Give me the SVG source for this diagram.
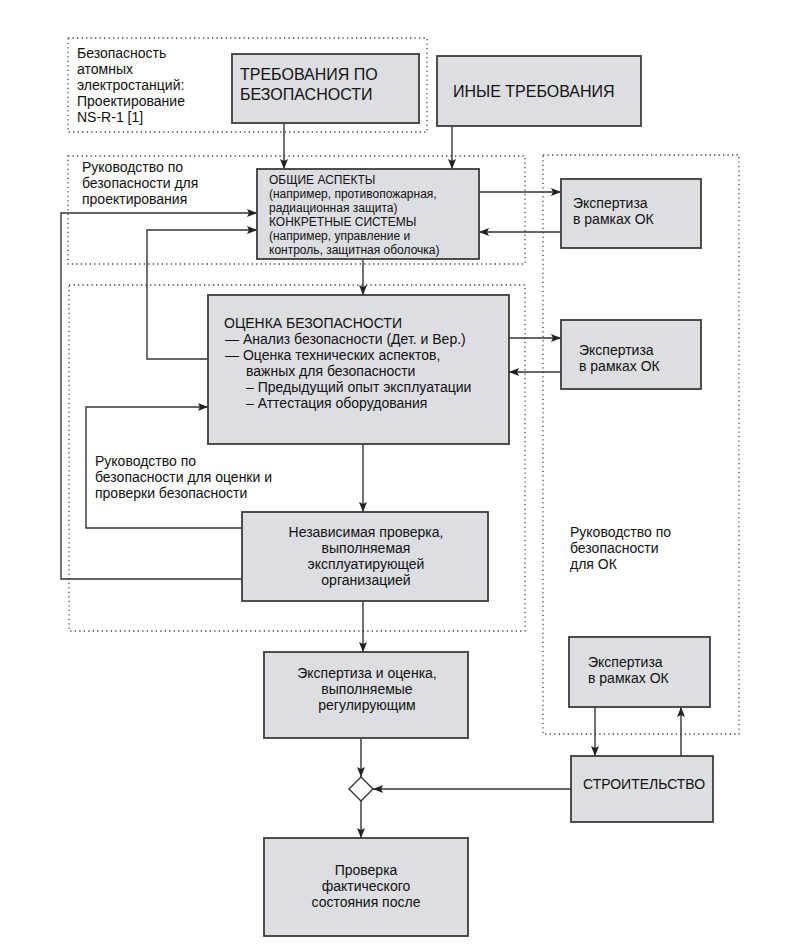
<svg xmlns="http://www.w3.org/2000/svg" width="793" height="947" viewBox="0 0 793 947">
<defs>
<style>
.bg{fill:#ffffff}
.zone{fill:none;stroke:#444;stroke-width:1.3;stroke-dasharray:1.3 3.2}
.box{fill:#dcdee2;stroke:#3c3c3c;stroke-width:1.8}
.ln{fill:none;stroke:#333;stroke-width:1.4}
text{font-family:"Liberation Sans",Arial,sans-serif;fill:#111;font-size:14px}
.big{font-size:16px}
.sm{font-size:12px}
.c{text-anchor:middle}
</style>
<marker id="ah" viewBox="0 0 10 8" refX="10" refY="4" markerWidth="10" markerHeight="8" markerUnits="userSpaceOnUse" orient="auto">
<path d="M0,0 L10,4 L0,8 L2,4 z" fill="#222"/>
</marker>
</defs>
<rect class="bg" x="0" y="0" width="793" height="947"/>

<g id="zones">
<rect class="zone" x="68" y="38" width="359" height="94"/>
<rect class="zone" x="68" y="156" width="457" height="108"/>
<rect class="zone" x="69" y="285" width="456" height="346"/>
<rect class="zone" x="543" y="155" width="196" height="579"/>
</g>

<g id="zone-labels">
<text x="77" y="58">Безопасность</text>
<text x="77" y="74">атомных</text>
<text x="77" y="90">электростанций:</text>
<text x="77" y="106">Проектирование</text>
<text x="77" y="122">NS-R-1 [1]</text>
<text x="82" y="172">Руководство по</text>
<text x="82" y="188">безопасности для</text>
<text x="82" y="204">проектирования</text>
<text x="95" y="466">Руководство по</text>
<text x="95" y="482">безопасности для оценки и</text>
<text x="95" y="498">проверки безопасности</text>
<text x="570" y="537">Руководство по</text>
<text x="570" y="553">безопасности</text>
<text x="570" y="569">для ОК</text>
</g>

<g id="connectors">
<path class="ln" d="M284,123 V169" marker-end="url(#ah)"/>
<path class="ln" d="M452,126 V169" marker-end="url(#ah)"/>
<path class="ln" d="M479,192 H561" marker-end="url(#ah)"/>
<path class="ln" d="M561,232 H479" marker-end="url(#ah)"/>
<path class="ln" d="M363,259 V295" marker-end="url(#ah)"/>
<path class="ln" d="M509,338 H561" marker-end="url(#ah)"/>
<path class="ln" d="M561,372 H509" marker-end="url(#ah)"/>
<path class="ln" d="M208,359 H147 V230 H257" marker-end="url(#ah)"/>
<path class="ln" d="M242,528 H86 V407 H208" marker-end="url(#ah)"/>
<path class="ln" d="M242,579 H61 V213 H257" marker-end="url(#ah)"/>
<path class="ln" d="M363,444 V512" marker-end="url(#ah)"/>
<path class="ln" d="M363,601 V652" marker-end="url(#ah)"/>
<path class="ln" d="M361,738 V777" marker-end="url(#ah)"/>
<path class="ln" d="M361,801 V838" marker-end="url(#ah)"/>
<path class="ln" d="M571,789 H373" marker-end="url(#ah)"/>
<path class="ln" d="M595,707 V756" marker-end="url(#ah)"/>
<path class="ln" d="M681,756 V707" marker-end="url(#ah)"/>
</g>

<g id="n-treb">
<rect class="box" x="232" y="54" width="187" height="69"/>
<text class="big" x="240" y="80">ТРЕБОВАНИЯ ПО</text>
<text class="big" x="240" y="100">БЕЗОПАСНОСТИ</text>
</g>

<g id="n-inye">
<rect class="box" x="437" y="56" width="204" height="70"/>
<text class="big" x="453" y="97">ИНЫЕ ТРЕБОВАНИЯ</text>
</g>

<g id="n-obshchie">
<rect class="box" x="257" y="169" width="222" height="90"/>
<text class="sm" x="269" y="184">ОБЩИЕ АСПЕКТЫ</text>
<text class="sm" x="269" y="198">(например, противопожарная,</text>
<text class="sm" x="269" y="212">радиационная защита)</text>
<text class="sm" x="269" y="226">КОНКРЕТНЫЕ СИСТЕМЫ</text>
<text class="sm" x="269" y="240">(например, управление и</text>
<text class="sm" x="269" y="254">контроль, защитная оболочка)</text>
</g>

<g id="n-eksp1">
<rect class="box" x="561" y="179" width="140" height="69"/>
<text x="573" y="208">Экспертиза</text>
<text x="573" y="224">в рамках ОК</text>
</g>

<g id="n-ocenka">
<rect class="box" x="208" y="295" width="301" height="149"/>
<text x="224" y="328">ОЦЕНКА БЕЗОПАСНОСТИ</text>
<text x="225" y="344">— Анализ безопасности (Дет. и Вер.)</text>
<text x="225" y="360">— Оценка технических аспектов,</text>
<text x="246" y="376">важных для безопасности</text>
<text x="246" y="392">– Предыдущий опыт эксплуатации</text>
<text x="246" y="408">– Аттестация оборудования</text>
</g>

<g id="n-eksp2">
<rect class="box" x="561" y="320" width="140" height="69"/>
<text x="579" y="355">Экспертиза</text>
<text x="579" y="371">в рамках ОК</text>
</g>

<g id="n-nezav">
<rect class="box" x="242" y="512" width="246" height="89"/>
<text class="c" x="366" y="537">Независимая проверка,</text>
<text class="c" x="366" y="553">выполняемая</text>
<text class="c" x="366" y="569">эксплуатирующей</text>
<text class="c" x="366" y="585">организацией</text>
</g>

<g id="n-eio">
<rect class="box" x="264" y="652" width="204" height="86"/>
<text class="c" x="367" y="678">Экспертиза и оценка,</text>
<text class="c" x="367" y="694">выполняемые</text>
<text class="c" x="367" y="710">регулирующим</text>
</g>

<g id="n-eksp3">
<rect class="box" x="569" y="637" width="141" height="70"/>
<text x="588" y="667">Экспертиза</text>
<text x="588" y="683">в рамках ОК</text>
</g>

<g id="n-stroit">
<rect class="box" x="571" y="756" width="142" height="66"/>
<text x="583" y="789">СТРОИТЕЛЬСТВО</text>
</g>

<g id="n-diamond">
<path d="M361,777 L373,789 L361,801 L349,789 z" fill="#fff" stroke="#333" stroke-width="1.4"/>
</g>

<g id="n-proverka">
<rect class="box" x="264" y="838" width="204" height="98"/>
<text class="c" x="366" y="875">Проверка</text>
<text class="c" x="366" y="891">фактического</text>
<text class="c" x="366" y="907">состояния после</text>
</g>
</svg>
